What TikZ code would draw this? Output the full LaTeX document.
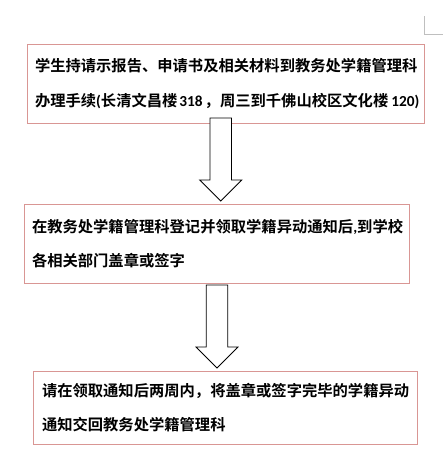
\documentclass[tikz,border=0pt]{standalone}
\usepackage{fontspec}
\setmainfont{Noto Sans CJK SC}[BoldFont={Noto Sans CJK SC Bold}]
\newfontfamily\numfont{Carlito}
\usetikzlibrary{calc}
\definecolor{boxred}{RGB}{217,150,148}

\begin{document}
\begin{tikzpicture}[
  x=1pt, y=-1pt,
  font=\bfseries\fontsize{15.3}{34.5}\selectfont,
  stepbox/.style={draw=boxred, line width=0.9pt, rectangle, align=left, inner xsep=8pt, inner ysep=0pt},
  flowarrow/.style={draw=black, fill=white, line width=0.8pt, line join=miter},
  cornermark/.style={draw=black!25, line width=0.8pt}
]
  \useasboundingbox (0,0) rectangle (448,467);
  % page corner mark
  \draw[cornermark] (424,16) -- (424,34) -- (443,34);

  \node[stepbox, minimum width=397pt, minimum height=79pt, text width=381pt] (stepone) at (225.5,83.5)
    {学生持请示报告、申请书及相关材料到教务处学籍管理科\\\mbox{办理手续{\numfont(}长清文昌楼\hspace{2pt}{\numfont 318}\hspace{2pt}，周三到千佛山校区文化楼\hspace{3pt}{\numfont 120)}}};
  \node[stepbox, minimum width=385pt, minimum height=79pt, text width=369pt] (steptwo) at (216.5,243.5)
    {在教务处学籍管理科登记并领取学籍异动通知后{\numfont,}到学校\\各相关部门盖章或签字};
  \node[stepbox, minimum width=384pt, minimum height=73pt, text width=366pt, inner xsep=9pt] (stepthree) at (225,407.5)
    {请在领取通知后两周内，将盖章或签字完毕的学籍异动\\通知交回教务处学籍管理科};

  \coordinate (onetop) at (220.7,118);
  \coordinate (onetip) at (220.7,201);
  \coordinate (twotop) at (217,285);
  \coordinate (twotip) at (217,368);

  \foreach \top/\tip in {onetop/onetip, twotop/twotip}
    \draw[flowarrow] ($(\top)+(-10.8,0)$) -- ($(\tip)+(-10.8,-21)$) -- ($(\tip)+(-21,-21)$)
      -- (\tip) -- ($(\tip)+(21,-21)$) -- ($(\tip)+(10.8,-21)$) -- ($(\top)+(10.8,0)$) -- cycle;
\end{tikzpicture}
\end{document}
